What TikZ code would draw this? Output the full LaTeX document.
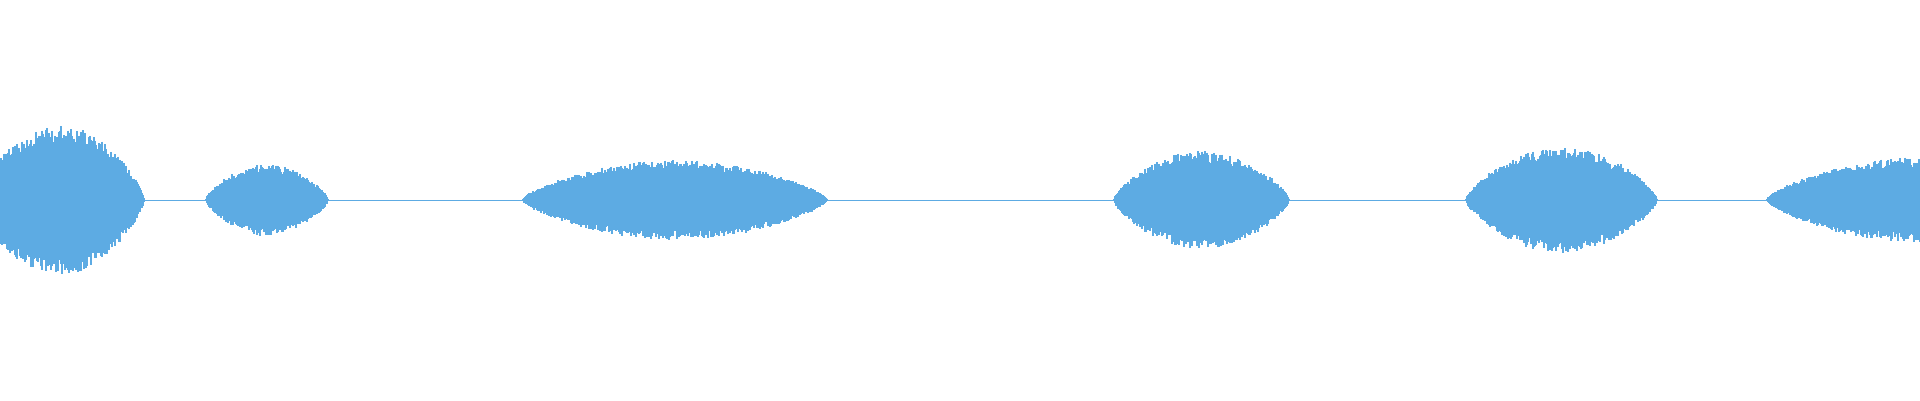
\documentclass[tikz,border=0pt]{standalone}
\definecolor{wave}{HTML}{5DABE3}
\begin{document}
\begin{tikzpicture}[x=1pt,y=1pt,wv/.style={draw=wave,line width=1.1pt}]
\useasboundingbox (0,0) rectangle (1920,400);
\clip (0,0) rectangle (1920,400);
\pgfmathsetseed{7}
\draw[wave,line width=0.8pt] (0,200)--(1920,200);
\foreach \a/\b/\m in {-25/144/74, 206/328/35, 523/827/39, 1114/1289/48, 1466/1657/52, 1767/2080/42}{
  \foreach \x in {\a,...,\b}{
    \pgfmathsetmacro\t{(\x-\a)/(\b-\a)*180}
    \pgfmathsetmacro\s{abs(sin(\t))+0.001}
    \pgfmathsetmacro\e{\m*(\s^0.7)*(0.75+0.25*rnd)+1}
    \pgfmathsetmacro\f{\m*(\s^0.7)*(0.75+0.25*rnd)+1}
    \draw[wv] (\x,200+\e)--(\x,200-\f);
  }
}
\end{tikzpicture}
\end{document}
